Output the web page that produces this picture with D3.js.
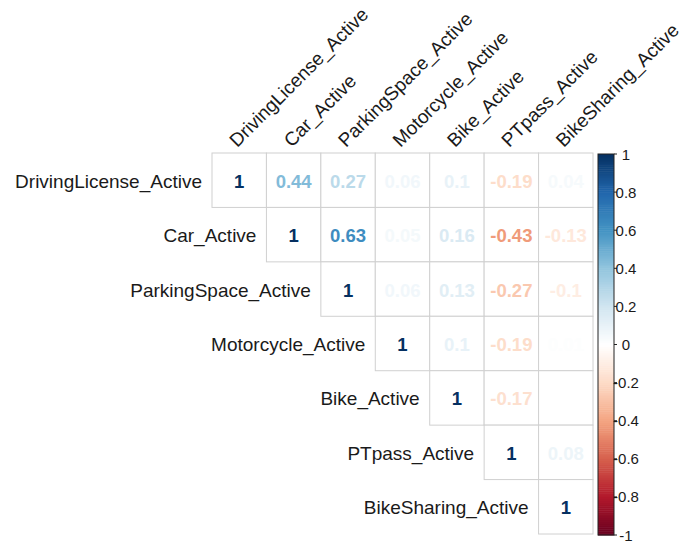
<!DOCTYPE html>
<html><head><meta charset="utf-8">
<script src="https://cdn.jsdelivr.net/npm/d3@7"></script>
<style>body{margin:0;background:#fff;}svg{display:block;}</style>
</head><body>
<svg id="chart" width="689" height="547"></svg>
<script>
const labels = ["DrivingLicense_Active","Car_Active","ParkingSpace_Active","Motorcycle_Active","Bike_Active","PTpass_Active","BikeSharing_Active"];
// upper-triangle rows (starting at the diagonal)
const rowDrivingLicense = [1, 0.44, 0.27, 0.06, 0.1, -0.19, 0.04];
const rowCar = [1, 0.63, 0.05, 0.16, -0.43, -0.13];
const rowParkingSpace = [1, 0.06, 0.13, -0.27, -0.1];
const rowMotorcycle = [1, 0.1, -0.19, 0.01];
const rowBike = [1, -0.17, 0];
const rowPTpass = [1, 0.08];
const rowBikeSharing = [1];
const rows = [rowDrivingLicense,rowCar,rowParkingSpace,rowMotorcycle,rowBike,rowPTpass,rowBikeSharing];
const paletteStops = ["#67001F","#B2182B","#D6604D","#F4A582","#FDDBC7","#FFFFFF","#D1E5F0","#92C5DE","#4393C3","#2166AC","#053061"];
const legendTicks = [1,0.8,0.6,0.4,0.2,0,-0.2,-0.4,-0.6,-0.8,-1];

const svg = d3.select("#chart");
const font = "'Liberation Sans', Arial, sans-serif";
const n = labels.length;
const x = d3.scaleBand().domain(d3.range(n)).range([212, 593]);
const y = d3.scaleBand().domain(d3.range(n)).range([153, 534]);
const color = d3.scaleLinear().domain(d3.range(11).map(i => -1 + i*0.2)).range(paletteStops).interpolate(d3.interpolateRgb);

const cells = [];
rows.forEach((r, i) => r.forEach((v, k) => cells.push({i, j: i + k, v})));

// cell borders
svg.append("g").selectAll("rect").data(cells).join("rect")
  .attr("x", d => x(d.j)).attr("y", d => y(d.i))
  .attr("width", x.bandwidth()).attr("height", y.bandwidth())
  .attr("fill", "#fff").attr("stroke", "#d0d0d0").attr("stroke-width", 1);

// numbers
svg.append("g").selectAll("text").data(cells).join("text")
  .attr("x", d => x(d.j) + x.bandwidth()/2)
  .attr("y", d => y(d.i) + y.bandwidth()/2 + 1)
  .attr("text-anchor", "middle").attr("dominant-baseline", "central")
  .attr("font-family", font).attr("font-weight", "bold").attr("font-size", 18.5)
  .attr("fill", d => color(d.v))
  .text(d => String(d.v));

// row labels
svg.append("g").selectAll("text").data(labels).join("text")
  .attr("x", (d, i) => x(i) - 10)
  .attr("y", (d, i) => y(i) + y.bandwidth()/2 + 1)
  .attr("text-anchor", "end").attr("dominant-baseline", "central")
  .attr("font-family", font).attr("font-size", 19).attr("fill", "#1a1a1a")
  .text(d => d);

// column labels
svg.append("g").selectAll("text").data(labels).join("text")
  .attr("transform", (d, i) => `translate(${x(i) + x.bandwidth()/2 - 2},${148}) rotate(-45)`)
  .attr("text-anchor", "start")
  .attr("font-family", font).attr("font-size", 19).attr("fill", "#1a1a1a")
  .text(d => d);

// colour bar
const ly = d3.scaleLinear().domain([1, -1]).range([154, 535]);
const nBar = 200;
const barX = 598, barW = 16;
const barSteps = d3.range(nBar).map(i => -1 + (i + 0.5) * 2 / nBar);
svg.append("g").selectAll("rect").data(barSteps).join("rect")
  .attr("x", barX).attr("width", barW)
  .attr("y", d => ly(d + 1/nBar))
  .attr("height", (ly(-1) - ly(1)) / nBar + 0.5)
  .attr("fill", d => color(d));
svg.append("rect").attr("x", barX).attr("y", ly(1)).attr("width", barW).attr("height", ly(-1) - ly(1))
  .attr("fill", "none").attr("stroke", "#222").attr("stroke-width", 1);
const lg = svg.append("g");
lg.selectAll("line").data(legendTicks).join("line")
  .attr("x1", barX + barW).attr("x2", barX + barW + 3)
  .attr("y1", d => ly(d)).attr("y2", d => ly(d))
  .attr("stroke", "#222");
lg.selectAll("text").data(legendTicks).join("text")
  .attr("x", 626).attr("y", d => ly(d))
  .attr("text-anchor", "middle").attr("dominant-baseline", "central")
  .attr("font-family", font).attr("font-size", 15).attr("fill", "#1a1a1a")
  .text(d => String(d));
</script>
</body></html>
